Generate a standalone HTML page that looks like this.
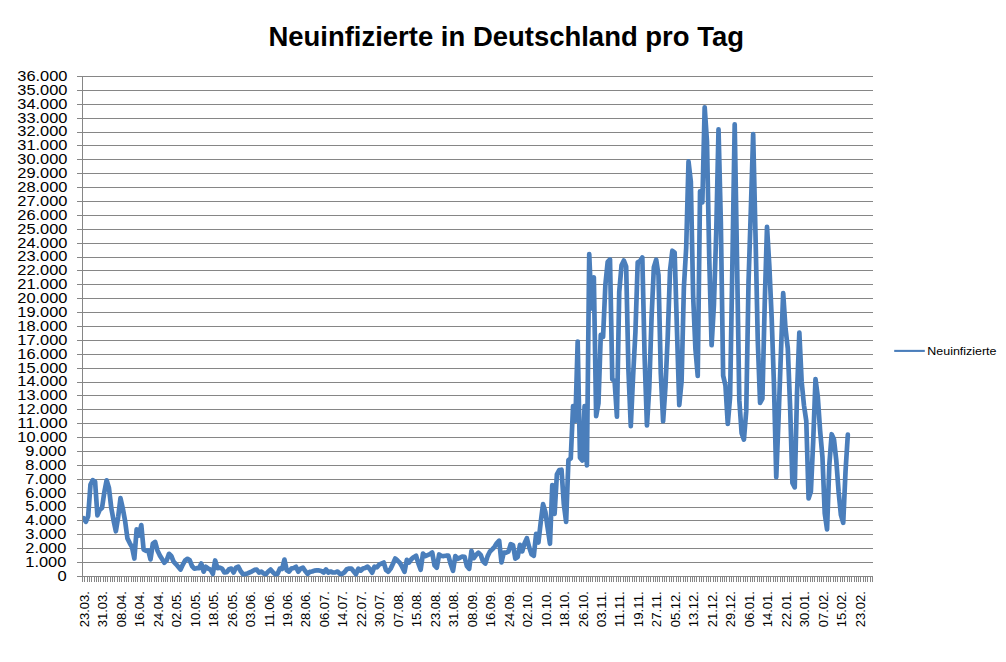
<!DOCTYPE html>
<html lang="de"><head><meta charset="utf-8"><title>Neuinfizierte in Deutschland pro Tag</title>
<style>html,body{margin:0;padding:0;background:#fff}body{width:1006px;height:662px;overflow:hidden}svg{display:block}text{font-family:"Liberation Sans", sans-serif;fill:#000}</style></head><body>
<svg width="1006" height="662" viewBox="0 0 1006 662">
<rect x="0" y="0" width="1006" height="662" fill="#ffffff"/>
<text x="506.2" y="46.1" text-anchor="middle" font-size="27.4" font-weight="bold" textLength="475.6" lengthAdjust="spacingAndGlyphs">Neuinfizierte in Deutschland pro Tag</text>
<g fill="#868686" shape-rendering="crispEdges">
<rect x="77" y="576" width="796" height="1"/>
<rect x="77" y="562" width="796" height="1"/>
<rect x="77" y="548" width="796" height="1"/>
<rect x="77" y="534" width="796" height="1"/>
<rect x="77" y="520" width="796" height="1"/>
<rect x="77" y="507" width="796" height="1"/>
<rect x="77" y="493" width="796" height="1"/>
<rect x="77" y="479" width="796" height="1"/>
<rect x="77" y="465" width="796" height="1"/>
<rect x="77" y="451" width="796" height="1"/>
<rect x="77" y="437" width="796" height="1"/>
<rect x="77" y="423" width="796" height="1"/>
<rect x="77" y="409" width="796" height="1"/>
<rect x="77" y="395" width="796" height="1"/>
<rect x="77" y="382" width="796" height="1"/>
<rect x="77" y="368" width="796" height="1"/>
<rect x="77" y="354" width="796" height="1"/>
<rect x="77" y="340" width="796" height="1"/>
<rect x="77" y="326" width="796" height="1"/>
<rect x="77" y="312" width="796" height="1"/>
<rect x="77" y="298" width="796" height="1"/>
<rect x="77" y="284" width="796" height="1"/>
<rect x="77" y="270" width="796" height="1"/>
<rect x="77" y="257" width="796" height="1"/>
<rect x="77" y="243" width="796" height="1"/>
<rect x="77" y="229" width="796" height="1"/>
<rect x="77" y="215" width="796" height="1"/>
<rect x="77" y="201" width="796" height="1"/>
<rect x="77" y="187" width="796" height="1"/>
<rect x="77" y="173" width="796" height="1"/>
<rect x="77" y="159" width="796" height="1"/>
<rect x="77" y="145" width="796" height="1"/>
<rect x="77" y="132" width="796" height="1"/>
<rect x="77" y="118" width="796" height="1"/>
<rect x="77" y="104" width="796" height="1"/>
<rect x="77" y="90" width="796" height="1"/>
<rect x="77" y="76" width="796" height="1"/>
<rect x="82" y="76" width="1" height="501"/>
<rect x="82" y="577" width="1" height="5"/>
<rect x="84" y="577" width="1" height="5"/>
<rect x="87" y="577" width="1" height="5"/>
<rect x="89" y="577" width="1" height="5"/>
<rect x="91" y="577" width="1" height="5"/>
<rect x="94" y="577" width="1" height="5"/>
<rect x="96" y="577" width="1" height="5"/>
<rect x="98" y="577" width="1" height="5"/>
<rect x="100" y="577" width="1" height="5"/>
<rect x="103" y="577" width="1" height="5"/>
<rect x="105" y="577" width="1" height="5"/>
<rect x="107" y="577" width="1" height="5"/>
<rect x="110" y="577" width="1" height="5"/>
<rect x="112" y="577" width="1" height="5"/>
<rect x="114" y="577" width="1" height="5"/>
<rect x="117" y="577" width="1" height="5"/>
<rect x="119" y="577" width="1" height="5"/>
<rect x="121" y="577" width="1" height="5"/>
<rect x="124" y="577" width="1" height="5"/>
<rect x="126" y="577" width="1" height="5"/>
<rect x="128" y="577" width="1" height="5"/>
<rect x="131" y="577" width="1" height="5"/>
<rect x="133" y="577" width="1" height="5"/>
<rect x="135" y="577" width="1" height="5"/>
<rect x="137" y="577" width="1" height="5"/>
<rect x="140" y="577" width="1" height="5"/>
<rect x="142" y="577" width="1" height="5"/>
<rect x="144" y="577" width="1" height="5"/>
<rect x="147" y="577" width="1" height="5"/>
<rect x="149" y="577" width="1" height="5"/>
<rect x="151" y="577" width="1" height="5"/>
<rect x="154" y="577" width="1" height="5"/>
<rect x="156" y="577" width="1" height="5"/>
<rect x="158" y="577" width="1" height="5"/>
<rect x="161" y="577" width="1" height="5"/>
<rect x="163" y="577" width="1" height="5"/>
<rect x="165" y="577" width="1" height="5"/>
<rect x="167" y="577" width="1" height="5"/>
<rect x="170" y="577" width="1" height="5"/>
<rect x="172" y="577" width="1" height="5"/>
<rect x="174" y="577" width="1" height="5"/>
<rect x="177" y="577" width="1" height="5"/>
<rect x="179" y="577" width="1" height="5"/>
<rect x="181" y="577" width="1" height="5"/>
<rect x="184" y="577" width="1" height="5"/>
<rect x="186" y="577" width="1" height="5"/>
<rect x="188" y="577" width="1" height="5"/>
<rect x="191" y="577" width="1" height="5"/>
<rect x="193" y="577" width="1" height="5"/>
<rect x="195" y="577" width="1" height="5"/>
<rect x="197" y="577" width="1" height="5"/>
<rect x="200" y="577" width="1" height="5"/>
<rect x="202" y="577" width="1" height="5"/>
<rect x="204" y="577" width="1" height="5"/>
<rect x="207" y="577" width="1" height="5"/>
<rect x="209" y="577" width="1" height="5"/>
<rect x="211" y="577" width="1" height="5"/>
<rect x="214" y="577" width="1" height="5"/>
<rect x="216" y="577" width="1" height="5"/>
<rect x="218" y="577" width="1" height="5"/>
<rect x="221" y="577" width="1" height="5"/>
<rect x="223" y="577" width="1" height="5"/>
<rect x="225" y="577" width="1" height="5"/>
<rect x="228" y="577" width="1" height="5"/>
<rect x="230" y="577" width="1" height="5"/>
<rect x="232" y="577" width="1" height="5"/>
<rect x="234" y="577" width="1" height="5"/>
<rect x="237" y="577" width="1" height="5"/>
<rect x="239" y="577" width="1" height="5"/>
<rect x="241" y="577" width="1" height="5"/>
<rect x="244" y="577" width="1" height="5"/>
<rect x="246" y="577" width="1" height="5"/>
<rect x="248" y="577" width="1" height="5"/>
<rect x="251" y="577" width="1" height="5"/>
<rect x="253" y="577" width="1" height="5"/>
<rect x="255" y="577" width="1" height="5"/>
<rect x="258" y="577" width="1" height="5"/>
<rect x="260" y="577" width="1" height="5"/>
<rect x="262" y="577" width="1" height="5"/>
<rect x="264" y="577" width="1" height="5"/>
<rect x="267" y="577" width="1" height="5"/>
<rect x="269" y="577" width="1" height="5"/>
<rect x="271" y="577" width="1" height="5"/>
<rect x="274" y="577" width="1" height="5"/>
<rect x="276" y="577" width="1" height="5"/>
<rect x="278" y="577" width="1" height="5"/>
<rect x="281" y="577" width="1" height="5"/>
<rect x="283" y="577" width="1" height="5"/>
<rect x="285" y="577" width="1" height="5"/>
<rect x="288" y="577" width="1" height="5"/>
<rect x="290" y="577" width="1" height="5"/>
<rect x="292" y="577" width="1" height="5"/>
<rect x="295" y="577" width="1" height="5"/>
<rect x="297" y="577" width="1" height="5"/>
<rect x="299" y="577" width="1" height="5"/>
<rect x="301" y="577" width="1" height="5"/>
<rect x="304" y="577" width="1" height="5"/>
<rect x="306" y="577" width="1" height="5"/>
<rect x="308" y="577" width="1" height="5"/>
<rect x="311" y="577" width="1" height="5"/>
<rect x="313" y="577" width="1" height="5"/>
<rect x="315" y="577" width="1" height="5"/>
<rect x="318" y="577" width="1" height="5"/>
<rect x="320" y="577" width="1" height="5"/>
<rect x="322" y="577" width="1" height="5"/>
<rect x="325" y="577" width="1" height="5"/>
<rect x="327" y="577" width="1" height="5"/>
<rect x="329" y="577" width="1" height="5"/>
<rect x="331" y="577" width="1" height="5"/>
<rect x="334" y="577" width="1" height="5"/>
<rect x="336" y="577" width="1" height="5"/>
<rect x="338" y="577" width="1" height="5"/>
<rect x="341" y="577" width="1" height="5"/>
<rect x="343" y="577" width="1" height="5"/>
<rect x="345" y="577" width="1" height="5"/>
<rect x="348" y="577" width="1" height="5"/>
<rect x="350" y="577" width="1" height="5"/>
<rect x="352" y="577" width="1" height="5"/>
<rect x="355" y="577" width="1" height="5"/>
<rect x="357" y="577" width="1" height="5"/>
<rect x="359" y="577" width="1" height="5"/>
<rect x="362" y="577" width="1" height="5"/>
<rect x="364" y="577" width="1" height="5"/>
<rect x="366" y="577" width="1" height="5"/>
<rect x="368" y="577" width="1" height="5"/>
<rect x="371" y="577" width="1" height="5"/>
<rect x="373" y="577" width="1" height="5"/>
<rect x="375" y="577" width="1" height="5"/>
<rect x="378" y="577" width="1" height="5"/>
<rect x="380" y="577" width="1" height="5"/>
<rect x="382" y="577" width="1" height="5"/>
<rect x="385" y="577" width="1" height="5"/>
<rect x="387" y="577" width="1" height="5"/>
<rect x="389" y="577" width="1" height="5"/>
<rect x="392" y="577" width="1" height="5"/>
<rect x="394" y="577" width="1" height="5"/>
<rect x="396" y="577" width="1" height="5"/>
<rect x="398" y="577" width="1" height="5"/>
<rect x="401" y="577" width="1" height="5"/>
<rect x="403" y="577" width="1" height="5"/>
<rect x="405" y="577" width="1" height="5"/>
<rect x="408" y="577" width="1" height="5"/>
<rect x="410" y="577" width="1" height="5"/>
<rect x="412" y="577" width="1" height="5"/>
<rect x="415" y="577" width="1" height="5"/>
<rect x="417" y="577" width="1" height="5"/>
<rect x="419" y="577" width="1" height="5"/>
<rect x="422" y="577" width="1" height="5"/>
<rect x="424" y="577" width="1" height="5"/>
<rect x="426" y="577" width="1" height="5"/>
<rect x="428" y="577" width="1" height="5"/>
<rect x="431" y="577" width="1" height="5"/>
<rect x="433" y="577" width="1" height="5"/>
<rect x="435" y="577" width="1" height="5"/>
<rect x="438" y="577" width="1" height="5"/>
<rect x="440" y="577" width="1" height="5"/>
<rect x="442" y="577" width="1" height="5"/>
<rect x="445" y="577" width="1" height="5"/>
<rect x="447" y="577" width="1" height="5"/>
<rect x="449" y="577" width="1" height="5"/>
<rect x="452" y="577" width="1" height="5"/>
<rect x="454" y="577" width="1" height="5"/>
<rect x="456" y="577" width="1" height="5"/>
<rect x="459" y="577" width="1" height="5"/>
<rect x="461" y="577" width="1" height="5"/>
<rect x="463" y="577" width="1" height="5"/>
<rect x="465" y="577" width="1" height="5"/>
<rect x="468" y="577" width="1" height="5"/>
<rect x="470" y="577" width="1" height="5"/>
<rect x="472" y="577" width="1" height="5"/>
<rect x="475" y="577" width="1" height="5"/>
<rect x="477" y="577" width="1" height="5"/>
<rect x="479" y="577" width="1" height="5"/>
<rect x="482" y="577" width="1" height="5"/>
<rect x="484" y="577" width="1" height="5"/>
<rect x="486" y="577" width="1" height="5"/>
<rect x="489" y="577" width="1" height="5"/>
<rect x="491" y="577" width="1" height="5"/>
<rect x="493" y="577" width="1" height="5"/>
<rect x="495" y="577" width="1" height="5"/>
<rect x="498" y="577" width="1" height="5"/>
<rect x="500" y="577" width="1" height="5"/>
<rect x="502" y="577" width="1" height="5"/>
<rect x="505" y="577" width="1" height="5"/>
<rect x="507" y="577" width="1" height="5"/>
<rect x="509" y="577" width="1" height="5"/>
<rect x="512" y="577" width="1" height="5"/>
<rect x="514" y="577" width="1" height="5"/>
<rect x="516" y="577" width="1" height="5"/>
<rect x="519" y="577" width="1" height="5"/>
<rect x="521" y="577" width="1" height="5"/>
<rect x="523" y="577" width="1" height="5"/>
<rect x="526" y="577" width="1" height="5"/>
<rect x="528" y="577" width="1" height="5"/>
<rect x="530" y="577" width="1" height="5"/>
<rect x="532" y="577" width="1" height="5"/>
<rect x="535" y="577" width="1" height="5"/>
<rect x="537" y="577" width="1" height="5"/>
<rect x="539" y="577" width="1" height="5"/>
<rect x="542" y="577" width="1" height="5"/>
<rect x="544" y="577" width="1" height="5"/>
<rect x="546" y="577" width="1" height="5"/>
<rect x="549" y="577" width="1" height="5"/>
<rect x="551" y="577" width="1" height="5"/>
<rect x="553" y="577" width="1" height="5"/>
<rect x="556" y="577" width="1" height="5"/>
<rect x="558" y="577" width="1" height="5"/>
<rect x="560" y="577" width="1" height="5"/>
<rect x="562" y="577" width="1" height="5"/>
<rect x="565" y="577" width="1" height="5"/>
<rect x="567" y="577" width="1" height="5"/>
<rect x="569" y="577" width="1" height="5"/>
<rect x="572" y="577" width="1" height="5"/>
<rect x="574" y="577" width="1" height="5"/>
<rect x="576" y="577" width="1" height="5"/>
<rect x="579" y="577" width="1" height="5"/>
<rect x="581" y="577" width="1" height="5"/>
<rect x="583" y="577" width="1" height="5"/>
<rect x="586" y="577" width="1" height="5"/>
<rect x="588" y="577" width="1" height="5"/>
<rect x="590" y="577" width="1" height="5"/>
<rect x="592" y="577" width="1" height="5"/>
<rect x="595" y="577" width="1" height="5"/>
<rect x="597" y="577" width="1" height="5"/>
<rect x="599" y="577" width="1" height="5"/>
<rect x="602" y="577" width="1" height="5"/>
<rect x="604" y="577" width="1" height="5"/>
<rect x="606" y="577" width="1" height="5"/>
<rect x="609" y="577" width="1" height="5"/>
<rect x="611" y="577" width="1" height="5"/>
<rect x="613" y="577" width="1" height="5"/>
<rect x="616" y="577" width="1" height="5"/>
<rect x="618" y="577" width="1" height="5"/>
<rect x="620" y="577" width="1" height="5"/>
<rect x="623" y="577" width="1" height="5"/>
<rect x="625" y="577" width="1" height="5"/>
<rect x="627" y="577" width="1" height="5"/>
<rect x="629" y="577" width="1" height="5"/>
<rect x="632" y="577" width="1" height="5"/>
<rect x="634" y="577" width="1" height="5"/>
<rect x="636" y="577" width="1" height="5"/>
<rect x="639" y="577" width="1" height="5"/>
<rect x="641" y="577" width="1" height="5"/>
<rect x="643" y="577" width="1" height="5"/>
<rect x="646" y="577" width="1" height="5"/>
<rect x="648" y="577" width="1" height="5"/>
<rect x="650" y="577" width="1" height="5"/>
<rect x="653" y="577" width="1" height="5"/>
<rect x="655" y="577" width="1" height="5"/>
<rect x="657" y="577" width="1" height="5"/>
<rect x="659" y="577" width="1" height="5"/>
<rect x="662" y="577" width="1" height="5"/>
<rect x="664" y="577" width="1" height="5"/>
<rect x="666" y="577" width="1" height="5"/>
<rect x="669" y="577" width="1" height="5"/>
<rect x="671" y="577" width="1" height="5"/>
<rect x="673" y="577" width="1" height="5"/>
<rect x="676" y="577" width="1" height="5"/>
<rect x="678" y="577" width="1" height="5"/>
<rect x="680" y="577" width="1" height="5"/>
<rect x="683" y="577" width="1" height="5"/>
<rect x="685" y="577" width="1" height="5"/>
<rect x="687" y="577" width="1" height="5"/>
<rect x="690" y="577" width="1" height="5"/>
<rect x="692" y="577" width="1" height="5"/>
<rect x="694" y="577" width="1" height="5"/>
<rect x="696" y="577" width="1" height="5"/>
<rect x="699" y="577" width="1" height="5"/>
<rect x="701" y="577" width="1" height="5"/>
<rect x="703" y="577" width="1" height="5"/>
<rect x="706" y="577" width="1" height="5"/>
<rect x="708" y="577" width="1" height="5"/>
<rect x="710" y="577" width="1" height="5"/>
<rect x="713" y="577" width="1" height="5"/>
<rect x="715" y="577" width="1" height="5"/>
<rect x="717" y="577" width="1" height="5"/>
<rect x="720" y="577" width="1" height="5"/>
<rect x="722" y="577" width="1" height="5"/>
<rect x="724" y="577" width="1" height="5"/>
<rect x="726" y="577" width="1" height="5"/>
<rect x="729" y="577" width="1" height="5"/>
<rect x="731" y="577" width="1" height="5"/>
<rect x="733" y="577" width="1" height="5"/>
<rect x="736" y="577" width="1" height="5"/>
<rect x="738" y="577" width="1" height="5"/>
<rect x="740" y="577" width="1" height="5"/>
<rect x="743" y="577" width="1" height="5"/>
<rect x="745" y="577" width="1" height="5"/>
<rect x="747" y="577" width="1" height="5"/>
<rect x="750" y="577" width="1" height="5"/>
<rect x="752" y="577" width="1" height="5"/>
<rect x="754" y="577" width="1" height="5"/>
<rect x="757" y="577" width="1" height="5"/>
<rect x="759" y="577" width="1" height="5"/>
<rect x="761" y="577" width="1" height="5"/>
<rect x="763" y="577" width="1" height="5"/>
<rect x="766" y="577" width="1" height="5"/>
<rect x="768" y="577" width="1" height="5"/>
<rect x="770" y="577" width="1" height="5"/>
<rect x="773" y="577" width="1" height="5"/>
<rect x="775" y="577" width="1" height="5"/>
<rect x="777" y="577" width="1" height="5"/>
<rect x="780" y="577" width="1" height="5"/>
<rect x="782" y="577" width="1" height="5"/>
<rect x="784" y="577" width="1" height="5"/>
<rect x="787" y="577" width="1" height="5"/>
<rect x="789" y="577" width="1" height="5"/>
<rect x="791" y="577" width="1" height="5"/>
<rect x="793" y="577" width="1" height="5"/>
<rect x="796" y="577" width="1" height="5"/>
<rect x="798" y="577" width="1" height="5"/>
<rect x="800" y="577" width="1" height="5"/>
<rect x="803" y="577" width="1" height="5"/>
<rect x="805" y="577" width="1" height="5"/>
<rect x="807" y="577" width="1" height="5"/>
<rect x="810" y="577" width="1" height="5"/>
<rect x="812" y="577" width="1" height="5"/>
<rect x="814" y="577" width="1" height="5"/>
<rect x="817" y="577" width="1" height="5"/>
<rect x="819" y="577" width="1" height="5"/>
<rect x="821" y="577" width="1" height="5"/>
<rect x="823" y="577" width="1" height="5"/>
<rect x="826" y="577" width="1" height="5"/>
<rect x="828" y="577" width="1" height="5"/>
<rect x="830" y="577" width="1" height="5"/>
<rect x="833" y="577" width="1" height="5"/>
<rect x="835" y="577" width="1" height="5"/>
<rect x="837" y="577" width="1" height="5"/>
<rect x="840" y="577" width="1" height="5"/>
<rect x="842" y="577" width="1" height="5"/>
<rect x="844" y="577" width="1" height="5"/>
<rect x="847" y="577" width="1" height="5"/>
<rect x="849" y="577" width="1" height="5"/>
<rect x="851" y="577" width="1" height="5"/>
<rect x="854" y="577" width="1" height="5"/>
<rect x="856" y="577" width="1" height="5"/>
<rect x="858" y="577" width="1" height="5"/>
<rect x="860" y="577" width="1" height="5"/>
<rect x="863" y="577" width="1" height="5"/>
<rect x="865" y="577" width="1" height="5"/>
<rect x="867" y="577" width="1" height="5"/>
<rect x="870" y="577" width="1" height="5"/>
<rect x="872" y="577" width="1" height="5"/>
</g>
<g font-size="14.5" text-anchor="end">
<text x="66.8" y="580.8" textLength="9.2" lengthAdjust="spacingAndGlyphs">0</text>
<text x="66.4" y="566.9" textLength="41.1" lengthAdjust="spacingAndGlyphs">1.000</text>
<text x="66.4" y="553.0" textLength="41.1" lengthAdjust="spacingAndGlyphs">2.000</text>
<text x="66.4" y="539.1" textLength="41.1" lengthAdjust="spacingAndGlyphs">3.000</text>
<text x="66.4" y="525.2" textLength="41.1" lengthAdjust="spacingAndGlyphs">4.000</text>
<text x="66.4" y="511.4" textLength="41.1" lengthAdjust="spacingAndGlyphs">5.000</text>
<text x="66.4" y="497.5" textLength="41.1" lengthAdjust="spacingAndGlyphs">6.000</text>
<text x="66.4" y="483.6" textLength="41.1" lengthAdjust="spacingAndGlyphs">7.000</text>
<text x="66.4" y="469.7" textLength="41.1" lengthAdjust="spacingAndGlyphs">8.000</text>
<text x="66.4" y="455.8" textLength="41.1" lengthAdjust="spacingAndGlyphs">9.000</text>
<text x="67.5" y="441.9" textLength="50.2" lengthAdjust="spacingAndGlyphs">10.000</text>
<text x="67.5" y="428.0" textLength="50.2" lengthAdjust="spacingAndGlyphs">11.000</text>
<text x="67.5" y="414.1" textLength="50.2" lengthAdjust="spacingAndGlyphs">12.000</text>
<text x="67.5" y="400.2" textLength="50.2" lengthAdjust="spacingAndGlyphs">13.000</text>
<text x="67.5" y="386.4" textLength="50.2" lengthAdjust="spacingAndGlyphs">14.000</text>
<text x="67.5" y="372.5" textLength="50.2" lengthAdjust="spacingAndGlyphs">15.000</text>
<text x="67.5" y="358.6" textLength="50.2" lengthAdjust="spacingAndGlyphs">16.000</text>
<text x="67.5" y="344.7" textLength="50.2" lengthAdjust="spacingAndGlyphs">17.000</text>
<text x="67.5" y="330.8" textLength="50.2" lengthAdjust="spacingAndGlyphs">18.000</text>
<text x="67.5" y="316.9" textLength="50.2" lengthAdjust="spacingAndGlyphs">19.000</text>
<text x="67.5" y="303.0" textLength="50.2" lengthAdjust="spacingAndGlyphs">20.000</text>
<text x="67.5" y="289.1" textLength="50.2" lengthAdjust="spacingAndGlyphs">21.000</text>
<text x="67.5" y="275.2" textLength="50.2" lengthAdjust="spacingAndGlyphs">22.000</text>
<text x="67.5" y="261.4" textLength="50.2" lengthAdjust="spacingAndGlyphs">23.000</text>
<text x="67.5" y="247.5" textLength="50.2" lengthAdjust="spacingAndGlyphs">24.000</text>
<text x="67.5" y="233.6" textLength="50.2" lengthAdjust="spacingAndGlyphs">25.000</text>
<text x="67.5" y="219.7" textLength="50.2" lengthAdjust="spacingAndGlyphs">26.000</text>
<text x="67.5" y="205.8" textLength="50.2" lengthAdjust="spacingAndGlyphs">27.000</text>
<text x="67.5" y="191.9" textLength="50.2" lengthAdjust="spacingAndGlyphs">28.000</text>
<text x="67.5" y="178.0" textLength="50.2" lengthAdjust="spacingAndGlyphs">29.000</text>
<text x="67.5" y="164.1" textLength="50.2" lengthAdjust="spacingAndGlyphs">30.000</text>
<text x="67.5" y="150.2" textLength="50.2" lengthAdjust="spacingAndGlyphs">31.000</text>
<text x="67.5" y="136.4" textLength="50.2" lengthAdjust="spacingAndGlyphs">32.000</text>
<text x="67.5" y="122.5" textLength="50.2" lengthAdjust="spacingAndGlyphs">33.000</text>
<text x="67.5" y="108.6" textLength="50.2" lengthAdjust="spacingAndGlyphs">34.000</text>
<text x="67.5" y="94.7" textLength="50.2" lengthAdjust="spacingAndGlyphs">35.000</text>
<text x="67.5" y="80.8" textLength="50.2" lengthAdjust="spacingAndGlyphs">36.000</text>
</g>
<g font-size="12.3" text-anchor="end">
<text transform="translate(88.8 591.2) rotate(-90)" textLength="36.0" lengthAdjust="spacingAndGlyphs">23.03.</text>
<text transform="translate(107.2 591.2) rotate(-90)" textLength="36.0" lengthAdjust="spacingAndGlyphs">31.03.</text>
<text transform="translate(125.7 591.2) rotate(-90)" textLength="36.0" lengthAdjust="spacingAndGlyphs">08.04.</text>
<text transform="translate(144.2 591.2) rotate(-90)" textLength="36.0" lengthAdjust="spacingAndGlyphs">16.04.</text>
<text transform="translate(162.6 591.2) rotate(-90)" textLength="36.0" lengthAdjust="spacingAndGlyphs">24.04.</text>
<text transform="translate(181.1 591.2) rotate(-90)" textLength="36.0" lengthAdjust="spacingAndGlyphs">02.05.</text>
<text transform="translate(199.6 591.2) rotate(-90)" textLength="36.0" lengthAdjust="spacingAndGlyphs">10.05.</text>
<text transform="translate(218.1 591.2) rotate(-90)" textLength="36.0" lengthAdjust="spacingAndGlyphs">18.05.</text>
<text transform="translate(236.5 591.2) rotate(-90)" textLength="36.0" lengthAdjust="spacingAndGlyphs">26.05.</text>
<text transform="translate(255.0 591.2) rotate(-90)" textLength="36.0" lengthAdjust="spacingAndGlyphs">03.06.</text>
<text transform="translate(273.5 591.2) rotate(-90)" textLength="36.0" lengthAdjust="spacingAndGlyphs">11.06.</text>
<text transform="translate(291.9 591.2) rotate(-90)" textLength="36.0" lengthAdjust="spacingAndGlyphs">19.06.</text>
<text transform="translate(310.4 591.2) rotate(-90)" textLength="36.0" lengthAdjust="spacingAndGlyphs">28.06.</text>
<text transform="translate(328.9 591.2) rotate(-90)" textLength="36.0" lengthAdjust="spacingAndGlyphs">06.07.</text>
<text transform="translate(347.4 591.2) rotate(-90)" textLength="36.0" lengthAdjust="spacingAndGlyphs">14.07.</text>
<text transform="translate(365.8 591.2) rotate(-90)" textLength="36.0" lengthAdjust="spacingAndGlyphs">22.07.</text>
<text transform="translate(384.3 591.2) rotate(-90)" textLength="36.0" lengthAdjust="spacingAndGlyphs">30.07.</text>
<text transform="translate(402.8 591.2) rotate(-90)" textLength="36.0" lengthAdjust="spacingAndGlyphs">07.08.</text>
<text transform="translate(421.2 591.2) rotate(-90)" textLength="36.0" lengthAdjust="spacingAndGlyphs">15.08.</text>
<text transform="translate(439.7 591.2) rotate(-90)" textLength="36.0" lengthAdjust="spacingAndGlyphs">23.08.</text>
<text transform="translate(458.2 591.2) rotate(-90)" textLength="36.0" lengthAdjust="spacingAndGlyphs">31.08.</text>
<text transform="translate(476.7 591.2) rotate(-90)" textLength="36.0" lengthAdjust="spacingAndGlyphs">08.09.</text>
<text transform="translate(495.1 591.2) rotate(-90)" textLength="36.0" lengthAdjust="spacingAndGlyphs">16.09.</text>
<text transform="translate(513.6 591.2) rotate(-90)" textLength="36.0" lengthAdjust="spacingAndGlyphs">24.09.</text>
<text transform="translate(532.1 591.2) rotate(-90)" textLength="36.0" lengthAdjust="spacingAndGlyphs">02.10.</text>
<text transform="translate(550.6 591.2) rotate(-90)" textLength="36.0" lengthAdjust="spacingAndGlyphs">10.10.</text>
<text transform="translate(569.0 591.2) rotate(-90)" textLength="36.0" lengthAdjust="spacingAndGlyphs">18.10.</text>
<text transform="translate(587.5 591.2) rotate(-90)" textLength="36.0" lengthAdjust="spacingAndGlyphs">26.10.</text>
<text transform="translate(606.0 591.2) rotate(-90)" textLength="36.0" lengthAdjust="spacingAndGlyphs">03.11.</text>
<text transform="translate(624.4 591.2) rotate(-90)" textLength="36.0" lengthAdjust="spacingAndGlyphs">11.11.</text>
<text transform="translate(642.9 591.2) rotate(-90)" textLength="36.0" lengthAdjust="spacingAndGlyphs">19.11.</text>
<text transform="translate(661.4 591.2) rotate(-90)" textLength="36.0" lengthAdjust="spacingAndGlyphs">27.11.</text>
<text transform="translate(679.9 591.2) rotate(-90)" textLength="36.0" lengthAdjust="spacingAndGlyphs">05.12.</text>
<text transform="translate(698.3 591.2) rotate(-90)" textLength="36.0" lengthAdjust="spacingAndGlyphs">13.12.</text>
<text transform="translate(716.8 591.2) rotate(-90)" textLength="36.0" lengthAdjust="spacingAndGlyphs">21.12.</text>
<text transform="translate(735.3 591.2) rotate(-90)" textLength="36.0" lengthAdjust="spacingAndGlyphs">29.12.</text>
<text transform="translate(753.7 591.2) rotate(-90)" textLength="36.0" lengthAdjust="spacingAndGlyphs">06.01.</text>
<text transform="translate(772.2 591.2) rotate(-90)" textLength="36.0" lengthAdjust="spacingAndGlyphs">14.01.</text>
<text transform="translate(790.7 591.2) rotate(-90)" textLength="36.0" lengthAdjust="spacingAndGlyphs">22.01.</text>
<text transform="translate(809.2 591.2) rotate(-90)" textLength="36.0" lengthAdjust="spacingAndGlyphs">30.01.</text>
<text transform="translate(827.6 591.2) rotate(-90)" textLength="36.0" lengthAdjust="spacingAndGlyphs">07.02.</text>
<text transform="translate(846.1 591.2) rotate(-90)" textLength="36.0" lengthAdjust="spacingAndGlyphs">15.02.</text>
<text transform="translate(864.6 591.2) rotate(-90)" textLength="36.0" lengthAdjust="spacingAndGlyphs">23.02.</text>
</g>
<clipPath id="plotclip"><rect x="83" y="60" width="800" height="530"/></clipPath>
<polyline clip-path="url(#plotclip)" fill="none" stroke="#4a7ebb" stroke-width="4.7" stroke-linejoin="round" stroke-linecap="round" points="83.55,518.30 85.86,521.82 88.17,516.16 90.48,484.52 92.79,480.11 95.09,481.62 97.40,515.29 99.71,509.87 102.02,508.02 104.33,492.18 106.64,480.26 108.95,488.00 111.26,507.89 113.57,520.41 115.88,531.25 118.19,516.83 120.49,498.16 122.80,508.55 125.11,520.98 127.42,538.39 129.73,543.07 132.04,547.23 134.35,558.52 136.66,529.26 138.97,535.50 141.28,525.02 143.58,549.39 145.89,550.82 148.20,550.27 150.51,559.37 152.82,543.66 155.13,541.94 157.44,550.43 159.75,555.37 162.06,558.94 164.37,562.68 166.67,560.37 168.98,553.80 171.29,555.98 173.60,561.57 175.91,564.04 178.22,566.72 180.53,569.62 182.84,564.52 185.15,560.36 187.45,558.79 189.76,560.32 192.07,566.18 194.38,568.69 196.69,568.21 199.00,568.07 201.31,563.52 203.62,571.68 205.93,566.82 208.24,568.62 210.55,569.73 212.85,573.97 215.16,560.46 217.47,568.07 219.78,567.65 222.09,568.62 224.40,572.51 226.71,572.23 229.02,569.32 231.33,568.62 233.63,572.51 235.94,567.65 238.25,566.68 240.56,570.98 242.87,574.04 245.18,574.04 247.49,573.48 249.80,572.37 252.11,571.26 254.42,569.94 256.73,569.59 259.03,572.58 261.34,571.54 263.65,573.48 265.96,574.18 268.27,571.54 270.58,569.59 272.89,572.23 275.20,574.18 277.51,573.90 279.81,568.62 282.12,569.04 284.43,559.59 286.74,570.29 289.05,571.68 291.36,568.62 293.67,568.07 295.98,566.82 298.29,571.68 300.60,568.62 302.91,567.65 305.21,570.98 307.52,573.83 309.83,571.89 312.14,571.54 314.45,570.57 316.76,570.43 319.07,570.43 321.38,570.98 323.69,572.51 326.00,569.46 328.30,572.51 330.61,571.54 332.92,572.51 335.23,572.37 337.54,571.54 339.85,573.83 342.16,573.83 344.47,572.23 346.78,569.32 349.09,568.62 351.39,568.62 353.70,571.40 356.01,574.18 358.32,568.62 360.63,570.64 362.94,568.62 365.25,567.93 367.56,566.68 369.87,569.18 372.18,572.65 374.48,566.68 376.79,567.37 379.10,564.73 381.41,563.62 383.72,562.51 386.03,570.15 388.34,571.68 390.65,568.62 392.96,563.76 395.27,558.55 397.57,560.57 399.88,562.86 402.19,566.96 404.50,571.82 406.81,559.87 409.12,562.44 411.43,559.11 413.74,557.16 416.05,555.77 418.36,563.41 420.66,569.73 422.97,553.69 425.28,556.19 427.59,555.15 429.90,554.18 432.21,552.51 434.52,565.43 436.83,567.72 439.14,554.46 441.45,555.91 443.75,556.05 446.06,555.71 448.37,555.71 450.68,564.04 452.99,570.77 455.30,556.05 457.61,558.76 459.92,557.79 462.23,556.54 464.54,556.75 466.84,565.98 469.15,568.83 471.46,550.84 473.77,558.21 476.08,554.87 478.39,552.65 480.70,554.87 483.01,561.40 485.32,563.62 487.63,556.12 489.93,551.54 492.24,549.32 494.55,546.82 496.86,543.07 499.17,540.64 501.48,562.51 503.79,552.58 506.10,552.58 508.41,551.61 510.72,544.18 513.02,545.15 515.33,558.62 517.64,557.09 519.95,544.87 522.26,551.40 524.57,543.21 526.88,538.21 529.19,547.23 531.50,554.18 533.81,555.71 536.11,533.94 538.42,542.51 540.73,522.23 543.04,504.18 545.35,511.82 547.66,527.79 549.97,543.76 552.28,485.15 554.59,513.90 556.89,474.32 559.20,470.15 561.51,469.73 563.82,504.18 566.13,521.82 568.44,460.15 570.75,458.34 573.06,406.18 575.37,420.84 577.68,341.48 579.99,457.79 582.29,460.43 584.60,406.18 586.91,465.29 589.22,254.00 591.53,308.34 593.84,277.37 596.15,416.12 598.46,403.34 600.77,334.73 603.08,336.82 605.38,284.73 607.69,261.82 610.00,259.39 612.31,379.18 614.62,381.26 616.93,416.68 619.24,291.68 621.55,265.29 623.86,260.50 626.16,266.68 628.47,370.84 630.78,426.07 633.09,376.14 635.40,332.50 637.71,262.39 640.02,261.12 642.33,257.46 644.64,357.77 646.95,425.51 649.25,388.15 651.56,317.61 653.87,267.12 656.18,259.65 658.49,275.08 660.80,373.47 663.11,421.27 665.42,387.46 667.73,336.54 670.04,270.21 672.35,250.72 674.65,252.54 676.96,329.64 679.27,405.12 681.58,381.21 683.89,287.30 686.20,247.52 688.51,161.47 690.82,181.43 693.13,295.84 695.43,349.15 697.74,375.96 700.05,191.29 702.36,202.47 704.67,107.27 706.98,141.68 709.29,260.14 711.60,345.25 713.91,305.18 716.22,232.79 718.52,129.25 720.83,221.77 723.14,375.64 725.45,385.36 727.76,423.96 730.07,397.34 732.38,264.47 734.69,124.29 737.00,258.01 739.31,400.15 741.62,433.14 743.92,439.64 746.23,411.16 748.54,281.44 750.85,209.86 753.16,134.05 755.47,233.43 757.78,341.04 760.09,402.83 762.40,398.59 764.71,304.18 767.01,226.90 769.32,265.73 771.63,316.98 773.94,383.59 776.25,477.22 778.56,418.50 780.87,354.54 783.18,293.09 785.49,328.32 787.79,348.39 790.10,406.16 792.41,482.94 794.72,487.40 797.03,393.04 799.34,332.61 801.65,381.65 803.96,405.27 806.27,420.96 808.58,498.51 810.88,491.48 813.19,441.61 815.50,379.02 817.81,397.12 820.12,430.77 822.43,456.73 824.74,513.41 827.05,529.47 829.36,464.29 831.67,434.22 833.98,439.46 836.28,460.37 838.59,491.48 840.90,514.93 843.21,522.84 845.52,471.46 847.83,434.64"/>
<line x1="894.2" y1="350.9" x2="924.8" y2="350.9" stroke="#4a7ebb" stroke-width="2.1"/>
<text x="927.3" y="354.8" font-size="11.3" textLength="69.2" lengthAdjust="spacingAndGlyphs">Neuinfizierte</text>
</svg></body></html>
